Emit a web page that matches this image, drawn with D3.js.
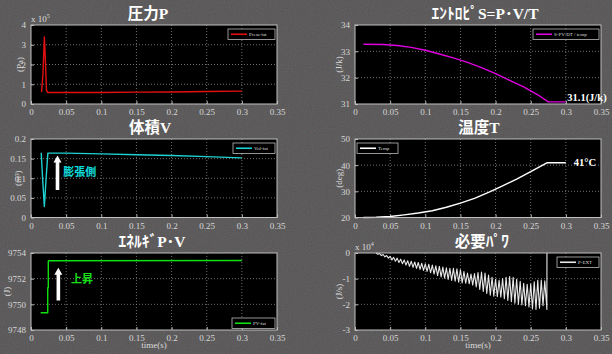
<!DOCTYPE html>
<html><head><meta charset="utf-8">
<script src="https://cdn.jsdelivr.net/npm/d3@7"></script>
<style>html,body{margin:0;padding:0;background:#474747;}svg{display:block;}</style>
</head><body>
<svg id="chart" width="612" height="354"></svg>
<script>
// ---------------- data ----------------
const xTicks = [0, 0.05, 0.1, 0.15, 0.2, 0.25, 0.3, 0.35];
const xTickLabels = ["0", "0.05", "0.1", "0.15", "0.2", "0.25", "0.3", "0.35"];

const titles = ["圧力P", "ｴﾝﾄﾛﾋﾟS=P･V/T", "体積V", "温度T", "ｴﾈﾙｷﾞP･V", "必要ﾊﾟﾜ"];
const yLabels = ["(Pa)", "(J/k)", "(m³)", "(deg)", "(J)", "(J/s)"];
const legendLabels = ["Press-fat", "S-PV/DT / temp", "Vol-fat", "Temp", "PV-fat", "P-EXT"];

const pressureTicks = [0, 1, 2, 3, 4];
const entropyTicks = [31, 32, 33, 34];
const volumeTicks = [0, 0.05, 0.1, 0.15, 0.2];
const volumeTickLabels = ["0", "0.05", "0.1", "0.15", "0.2"];
const tempTicks = [20, 30, 40, 50];
const energyTicks = [9748, 9750, 9752, 9754];
const powerTicks = [-3, -2, -1, 0];

// pressure (x10^5 Pa)
const pressureTime  = [0.015, 0.017, 0.019, 0.0205, 0.022, 0.024, 0.05, 0.1, 0.15, 0.2, 0.25, 0.3];
const pressureValue = [0.6, 1.5, 3.4, 2.2, 0.7, 0.58, 0.58, 0.58, 0.6, 0.61, 0.63, 0.65];

// entropy (J/k)
const entropyTime  = [0.012, 0.04, 0.06, 0.08, 0.1, 0.12, 0.14, 0.16, 0.18, 0.2, 0.22, 0.24, 0.26, 0.275, 0.3];
const entropyValue = [33.27, 33.26, 33.22, 33.15, 33.04, 32.9, 32.75, 32.58, 32.38, 32.15, 31.9, 31.65, 31.35, 31.08, 31.08];

// volume (m^3)
const volumeTime  = [0.0145, 0.0165, 0.019, 0.0215, 0.024, 0.05, 0.1, 0.15, 0.2, 0.25, 0.3];
const volumeValue = [0.165, 0.1, 0.028, 0.1, 0.164, 0.164, 0.162, 0.16, 0.158, 0.155, 0.152];

// temperature (deg)
const tempTime  = [0.012, 0.03, 0.05, 0.07, 0.09, 0.11, 0.13, 0.15, 0.17, 0.19, 0.21, 0.23, 0.25, 0.273, 0.3];
const tempValue = [20, 20.1, 20.4, 21, 21.7, 22.6, 23.9, 25.5, 27.3, 29.6, 32.1, 34.7, 37.5, 40.9, 40.9];

// energy (J)
const energyTime  = [0.0138, 0.0238, 0.0238, 0.0246, 0.0246, 0.025, 0.3];
const energyValue = [9749.35, 9749.35, 9751.3, 9751.3, 9753.35, 9753.4, 9753.42];

// required power (x10^4 J/s)
const powerTime = [0.03, 0.0325, 0.035, 0.0375, 0.04, 0.0425, 0.045, 0.0475, 0.05, 0.0525,
  0.055, 0.0575, 0.06, 0.0625, 0.065, 0.0675, 0.07, 0.0725, 0.075, 0.0775,
  0.08, 0.0825, 0.085, 0.0875, 0.09, 0.0925, 0.095, 0.0975, 0.1, 0.1025,
  0.105, 0.1075, 0.11, 0.1125, 0.115, 0.1175, 0.12, 0.1225, 0.125, 0.1275,
  0.13, 0.1325, 0.135, 0.1375, 0.14, 0.1425, 0.145, 0.1475, 0.15, 0.1525,
  0.155, 0.1575, 0.16, 0.1625, 0.165, 0.1675, 0.17, 0.1725, 0.175, 0.1775,
  0.18, 0.1825, 0.185, 0.1875, 0.19, 0.1925, 0.195, 0.1975, 0.2, 0.2025,
  0.205, 0.2075, 0.21, 0.2125, 0.215, 0.2175, 0.22, 0.2225, 0.225, 0.2275,
  0.23, 0.2325, 0.235, 0.2375, 0.24, 0.2425, 0.245, 0.2475, 0.25, 0.2525,
  0.255, 0.2575, 0.26, 0.2625, 0.265, 0.2675, 0.27, 0.2725, 0.273, 0.2731];
const powerValue = [0, -0.05, -0.02, -0.1, -0.06, -0.15, -0.1, -0.2, -0.13, -0.27,
  -0.17, -0.32, -0.2, -0.37, -0.24, -0.42, -0.27, -0.47, -0.3, -0.52,
  -0.32, -0.56, -0.35, -0.6, -0.37, -0.64, -0.4, -0.68, -0.42, -0.72,
  -0.44, -0.77, -0.47, -0.82, -0.5, -0.88, -0.52, -0.93, -0.55, -0.98,
  -0.58, -1.03, -0.6, -1.07, -0.6, -1.1, -0.62, -1.14, -0.65, -1.17,
  -0.72, -1.18, -0.78, -1.2, -0.82, -1.25, -0.8, -1.32, -0.76, -1.42,
  -0.74, -1.5, -0.78, -1.58, -0.86, -1.64, -0.95, -1.68, -1.02, -1.7,
  -1.06, -1.72, -1.0, -1.78, -0.95, -1.85, -0.92, -1.9, -0.95, -1.96,
  -1.02, -2.0, -1.1, -2.02, -1.18, -2.05, -1.22, -2.1, -1.2, -2.18,
  -1.12, -2.2, -1.06, -2.15, -1.05, -2.05, -1.08, -2.0, -2.2, 0];

// ---------------- layout ----------------
const panels = [
  {box:[31,277,25,104],   yDomain:[0,4],        ticks:pressureTicks, tickLabels:pressureTicks.map(String), t:pressureTime, v:pressureValue, color:"#e41010", legend:"tr", ylabX:20, exp:"5"},
  {box:[355,601,25,104],  yDomain:[31,34],      ticks:entropyTicks,  tickLabels:entropyTicks.map(String),  t:entropyTime,  v:entropyValue,  color:"#e000e0", legend:"tr", ylabX:339},
  {box:[31,277,139,217.5],yDomain:[0,0.2],      ticks:volumeTicks,   tickLabels:volumeTickLabels,          t:volumeTime,   v:volumeValue,   color:"#1ed2d2", legend:"tr", ylabX:18},
  {box:[355,601,139,217.5],yDomain:[20,50],     ticks:tempTicks,     tickLabels:tempTicks.map(String),     t:tempTime,     v:tempValue,     color:"#ffffff", legend:"tl", ylabX:339},
  {box:[31,277,253,330],  yDomain:[9748,9754],  ticks:energyTicks,   tickLabels:energyTicks.map(String),   t:energyTime,   v:energyValue,   color:"#10e010", legend:"br", ylabX:7, xlabel:true},
  {box:[355,601,253,330], yDomain:[-3,0],       ticks:powerTicks,    tickLabels:powerTicks.map(String),    t:powerTime,    v:powerValue,    color:"#e8e8e8", legend:"tr", ylabX:339, exp:"4", xlabel:true, thin:true}
];
const titlePos = [[148,13],[485,13],[150,127],[479,127],[152,241],[482,241]];

const svg = d3.select("#chart");
const defs = svg.append("defs");
const f = defs.append("filter").attr("id","noise").attr("x",0).attr("y",0).attr("width","100%").attr("height","100%");
f.append("feTurbulence").attr("type","fractalNoise").attr("baseFrequency","0.95").attr("numOctaves",1).attr("seed",3).attr("result","n");
f.append("feColorMatrix").attr("in","n").attr("type","matrix")
  .attr("values","0.9 0 0 0 0.05  0 0.7 0 0 0.12  0.9 0 0 0 0.05  0 0 0 0 0.35");

svg.append("rect").attr("width",612).attr("height",354).attr("fill","#474646");
svg.append("rect").attr("width",612).attr("height",354).attr("filter","url(#noise)").attr("opacity",0.55);

const serif = "'Liberation Serif','DejaVu Serif',serif";
const titleFont = "'Liberation Serif','Noto Sans CJK JP',serif";

panels.forEach((p, i) => {
  const [x0, x1, y0, y1] = p.box;
  const x = d3.scaleLinear().domain([0, 0.35]).range([x0, x1]);
  const y = d3.scaleLinear().domain(p.yDomain).range([y1, y0]);
  p.x = x; p.y = y;
  const g = svg.append("g");

  g.append("rect").attr("x",x0).attr("y",y0).attr("width",x1-x0).attr("height",y1-y0).attr("fill","#000");

  // grid
  g.append("g").selectAll("line").data(xTicks.slice(1,-1)).join("line")
    .attr("x1",d=>x(d)).attr("x2",d=>x(d)).attr("y1",y0).attr("y2",y1)
    .attr("stroke","#8a8a8a").attr("stroke-width",0.8).attr("stroke-dasharray","1,2");
  g.append("g").selectAll("line").data(p.ticks.slice(1,-1)).join("line")
    .attr("y1",d=>y(d)).attr("y2",d=>y(d)).attr("x1",x0).attr("x2",x1)
    .attr("stroke","#8a8a8a").attr("stroke-width",0.8).attr("stroke-dasharray","1,2");

  // axes via d3
  const xa = d3.axisBottom(x).tickValues(xTicks).tickFormat((d,k)=>xTickLabels[k]).tickSizeInner(-3).tickSizeOuter(0).tickPadding(5);
  const xg = g.append("g").attr("transform",`translate(0,${y1})`).call(xa);
  const ya = d3.axisLeft(y).tickValues(p.ticks).tickFormat((d,k)=>p.tickLabels[k]).tickSizeInner(-3).tickSizeOuter(0).tickPadding(5);
  const yg = g.append("g").attr("transform",`translate(${x0},0)`).call(ya);
  [xg, yg].forEach(a => {
    a.select(".domain").remove();
    a.selectAll("line").attr("stroke","#bbb");
    a.selectAll("text").attr("fill","#d8d8d8").style("font-family",serif).style("font-size","9px");
  });

  // data line
  const line = d3.line().x((d,k)=>x(p.t[k])).y((d,k)=>y(p.v[k]));
  g.append("path").datum(p.v).attr("d",line).attr("fill","none")
    .attr("stroke",p.color).attr("stroke-width", p.thin ? 1.1 : 1.4).attr("stroke-linejoin","round");

  // border
  g.append("rect").attr("x",x0).attr("y",y0).attr("width",x1-x0).attr("height",y1-y0)
    .attr("fill","none").attr("stroke","#c0c0c0").attr("stroke-width",1);

  // legend
  const lw = [47, 66, 42, 41, 43, 42][i], lh = 10.5;
  let lx, ly;
  if (p.legend === "tr") { lx = x1 - lw - 2; ly = y0 + 4; }
  else if (p.legend === "tl") { lx = x0 + 2; ly = y0 + 4; }
  else { lx = x1 - lw - 2; ly = y1 - lh - 1.5; }
  g.append("rect").attr("x",lx).attr("y",ly).attr("width",lw).attr("height",lh)
    .attr("fill","#000").attr("stroke","#bbb").attr("stroke-width",0.8);
  g.append("line").attr("x1",lx+3).attr("x2",lx+19).attr("y1",ly+lh/2).attr("y2",ly+lh/2)
    .attr("stroke",p.color).attr("stroke-width",1.6);
  g.append("text").attr("x",lx+21).attr("y",ly+lh/2+1.8).text(legendLabels[i])
    .attr("fill","#ddd").style("font-family",serif).style("font-size","5px");

  // y label
  g.append("text").attr("transform",`translate(${p.ylabX},${(y0+y1)/2}) rotate(-90)`)
    .attr("text-anchor","middle").attr("dy","0.35em").text(yLabels[i])
    .attr("fill","#ddd").style("font-family",serif).style("font-size","9px");

  // exponent
  if (p.exp) {
    const t = g.append("text").attr("x",x0).attr("y",y0-3).attr("fill","#ddd").style("font-family",serif).style("font-size","9px");
    t.append("tspan").text("x 10");
    t.append("tspan").attr("dy",-4).style("font-size","6px").text(p.exp);
  }
  if (p.xlabel) {
    g.append("text").attr("x",(x0+x1)/2).attr("y",348).attr("text-anchor","middle").text("time(s)")
      .attr("fill","#ddd").style("font-family",serif).style("font-size","9px");
  }

  // title
  svg.append("text").attr("x",titlePos[i][0]).attr("y",titlePos[i][1]).attr("dy","0.36em")
    .attr("text-anchor","middle").text(titles[i])
    .attr("fill","#fff").style("font-family",titleFont).style("font-weight","bold").style("font-size","15.5px");
});

// ---------------- annotations ----------------
function blockArrow(p, tx, yTop, yBottom) {
  const cx = p.x(tx), top = p.y(yTop), bot = p.y(yBottom);
  const hw = 4, sw = 1.8, hh = 7;
  svg.append("path").attr("d",
    `M${cx},${top} L${cx+hw},${top+hh} L${cx+sw},${top+hh} L${cx+sw},${bot} L${cx-sw},${bot} L${cx-sw},${top+hh} L${cx-hw},${top+hh} Z`)
    .attr("fill","#fff");
}
blockArrow(panels[2], 0.0377, 0.158, 0.07);
svg.append("text").attr("x",panels[2].x(0.046)).attr("y",panels[2].y(0.115)).attr("dy","0.35em")
  .text("膨張側").attr("fill","#10dede").style("font-family","'Noto Sans CJK JP',sans-serif")
  .style("font-weight","bold").style("font-size","11px");

blockArrow(panels[4], 0.0389, 9752.85, 9750.3);
svg.append("text").attr("x",panels[4].x(0.057)).attr("y",panels[4].y(9752.0)).attr("dy","0.35em")
  .text("上昇").attr("fill","#18e018").style("font-family","'Noto Sans CJK JP',sans-serif")
  .style("font-weight","bold").style("font-size","11px");

svg.append("text").attr("x",panels[1].x(0.302)).attr("y",panels[1].y(31.25)).attr("dy","0.35em")
  .text("31.1(J/k)").attr("fill","#fff").style("font-family",serif).style("font-weight","bold").style("font-size","10.5px");
svg.append("text").attr("x",panels[3].x(0.3)).attr("y",panels[3].y(40.9)).attr("dy","0.35em").attr("dx",8)
  .text("41°C").attr("fill","#fff").style("font-family",serif).style("font-weight","bold").style("font-size","10.5px");
</script>
</body></html>
